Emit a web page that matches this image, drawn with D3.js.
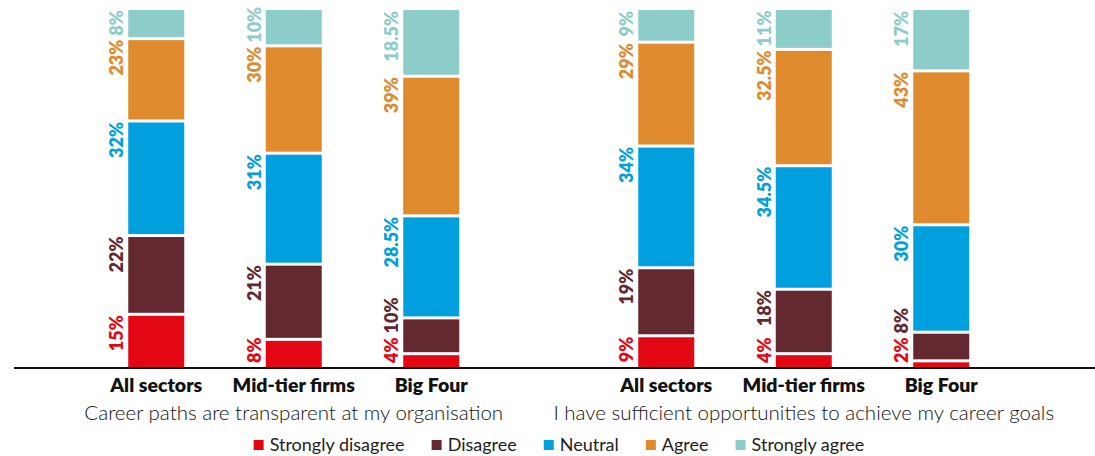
<!DOCTYPE html>
<meta charset="utf-8">
<style>
    body { margin: 0; background: #fff; }
    svg { font-family: Lato, "Open Sans", sans-serif; }
    .cat { font-size: 19.5px; font-weight: 800; fill: #111; }
    .question { font-size: 20.5px; font-weight: 300; fill: #111; }
    .legend text { font-size: 18px; font-weight: 400; fill: #222; }
    .val { font-size: 18px; font-weight: 800; }
</style>
<svg id="chart" width="1095" height="456"></svg>
<script src="https://cdnjs.cloudflare.com/ajax/libs/d3/7.8.5/d3.min.js"></script>
<script>

    var categories = ["All sectors", "Mid-tier firms", "Big Four"];
    var questions = ["Career paths are transparent at my organisation",
                     "I have sufficient opportunities to achieve my career goals"];
    var responses = ["Strongly disagree", "Disagree", "Neutral", "Agree", "Strongly agree"];
    var colours = ["#e30613", "#632830", "#00a0df", "#e08a2e", "#8ccdca"];

    // percentages per category, bottom (strongly disagree) to top (strongly agree)
    var careerPaths = [
        [15, 22, 32, 23, 8],
        [8, 21, 31, 30, 10],
        [4, 10, 28.5, 39, 18.5]
    ];
    var opportunities = [
        [9, 19, 34, 29, 9],
        [4, 18, 34.5, 32.5, 11],
        [2, 8, 30, 43, 17]
    ];
    var seriesByQuestion = [careerPaths, opportunities];

    var svg = d3.select("#chart");
    var baseY = 368, topY = 10, gap = 3;

    var y = d3.scaleLinear().domain([0, 100]).range([baseY, topY]);
    var color = d3.scaleOrdinal().domain(responses).range(colours);

    var x0 = d3.scaleBand()
        .domain(questions)
        .range([38.75, 1058.75]);

    // bars 56px wide on a 137.5px step
    var step = 137.5, barW = 56;
    var pIn = 1 - barW / step;
    var x1 = d3.scaleBand()
        .domain(categories)
        .range([0, x0.bandwidth()])
        .paddingInner(pIn)
        .paddingOuter((x0.bandwidth() / step - categories.length + pIn) / 2);

    var stack = d3.stack().keys(d3.range(responses.length));

    var groups = svg.selectAll("g.question")
        .data(questions)
        .enter().append("g")
        .attr("class", "question-group")
        .attr("transform", function(q) { return "translate(" + x0(q) + ",0)"; });

    groups.each(function(q, qi) {
        var g = d3.select(this);
        var rows = seriesByQuestion[qi];
        var layers = stack(rows);

        categories.forEach(function(cat, ci) {
            var bx = x1(cat);
            var bar = g.append("g").attr("class", "bar");

            layers.forEach(function(layer, si) {
                var d = layer[ci];
                var yTop = y(d[1]) + (d[1] >= 100 ? 0 : gap / 2);
                var yBot = y(d[0]) - (d[0] <= 0 ? 0 : gap / 2);
                bar.append("rect")
                    .attr("x", bx)
                    .attr("y", yTop)
                    .attr("width", x1.bandwidth())
                    .attr("height", Math.max(0, yBot - yTop))
                    .attr("fill", color(responses[si]));
            });

            // value labels, rotated, stacked from the bottom so they don't collide
            var limit = baseY - 5;
            layers.forEach(function(layer, si) {
                var d = layer[ci];
                var t = bar.append("text")
                    .attr("class", "val")
                    .attr("fill", color(responses[si]))
                    .attr("text-anchor", "start")
                    .text(rows[ci][si] + "%");
                var len = t.node().getComputedTextLength();
                var bottom = y(d[1]) + 1 + len;
                if (bottom > limit) bottom = limit;
                t.attr("transform", "translate(" + (bx - 5) + "," + bottom + ") rotate(-90)");
                limit = bottom - len - 4;
            });

            g.append("text")
                .attr("class", "cat")
                .attr("x", bx + x1.bandwidth() / 2)
                .attr("y", 392)
                .attr("text-anchor", "middle")
                .text(cat);
        });

        g.append("text")
            .attr("class", "question")
            .attr("x", x0.bandwidth() / 2)
            .attr("y", 420)
            .attr("text-anchor", "middle")
            .text(q);
    });

    // baseline
    svg.append("line")
        .attr("x1", 14).attr("x2", 1095)
        .attr("y1", baseY).attr("y2", baseY)
        .attr("stroke", "#111")
        .attr("stroke-width", 2);

    // legend
    var legend = svg.append("g").attr("class", "legend");
    var lx = 0;
    var items = legend.selectAll("g")
        .data(responses)
        .enter().append("g");
    items.append("rect")
        .attr("width", 10).attr("height", 10)
        .attr("y", 440)
        .attr("fill", function(d) { return color(d); });
    items.append("text")
        .attr("x", 16)
        .attr("y", 451)
        .text(function(d) { return d; });
    items.each(function() {
        var w = this.getBBox().width;
        d3.select(this).attr("transform", "translate(" + lx + ",0)");
        lx += w + 27;
    });
    var legendW = lx - 27;
    legend.attr("transform", "translate(" + (559 - legendW / 2) + ",0)");

</script>
